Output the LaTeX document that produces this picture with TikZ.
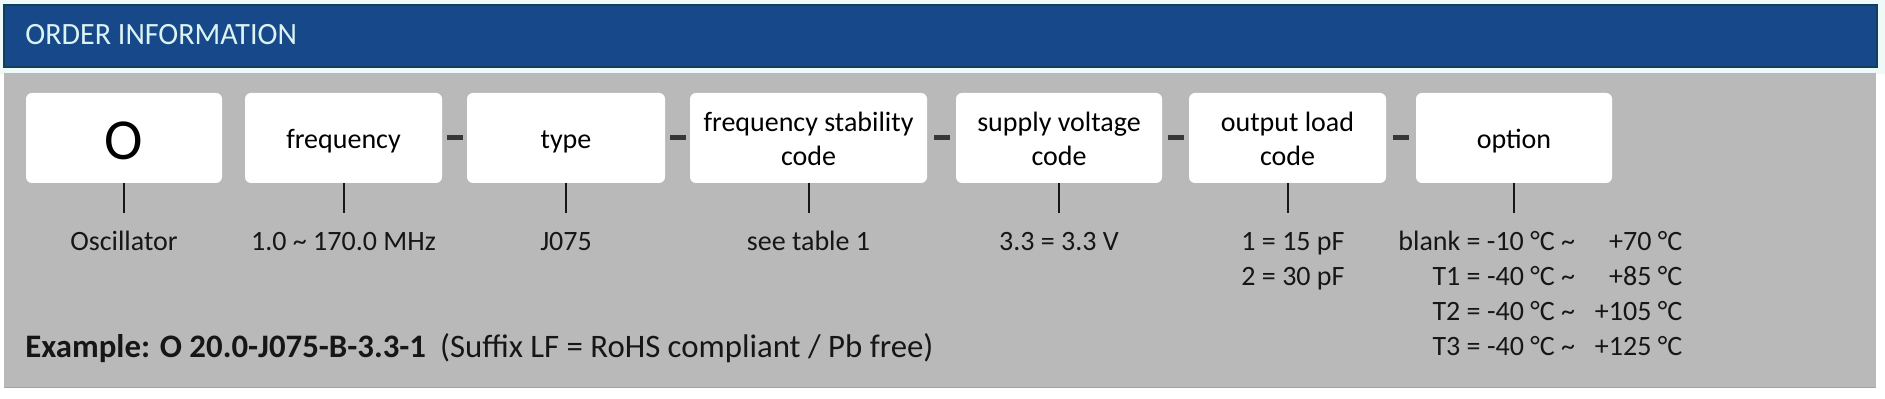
\documentclass[tikz,border=0pt]{standalone}
\usepackage{fontspec}
\setmainfont{Carlito}
\newfontfamily\hdrfont[FakeStretch=0.97]{Carlito}
\usetikzlibrary{calc}
\definecolor{hdrblue}{HTML}{16488A}
\definecolor{hdredge}{HTML}{123F5A}
\definecolor{hdrtext}{HTML}{DCF3F3}
\definecolor{bandc}{HTML}{EEFAFA}
\definecolor{panelgrey}{HTML}{B9B9B9}
\definecolor{paneledge}{HTML}{A4A4A4}
\definecolor{dashc}{HTML}{383838}
\definecolor{labc}{HTML}{161616}
\tikzset{
  boxst/.style={rectangle, fill=white, rounded corners=3pt, minimum height=45pt, inner sep=0pt},
  boxtxt/.style={anchor=base, inner sep=0pt, font=\fontsize{14}{17}\selectfont, text=black},
  dashst/.style={rectangle, fill=dashc, minimum width=8pt, minimum height=2.5pt, inner sep=0pt},
  tickst/.style={draw=labc, line width=1pt},
  lab/.style={anchor=base, inner sep=0pt, font=\fontsize{14}{17.5}\selectfont, text=labc},
}
\begin{document}
\begin{tikzpicture}[x=0.5pt,y=-0.5pt]
\useasboundingbox (0,0) rectangle (1885,399);
\fill[white] (0,0) rectangle (1885,399);
\fill[bandc] (0,0) rectangle (1885,74);
% header
\filldraw[fill=hdrblue, draw=hdredge, line width=1pt] (4,5) rectangle (1877,67);
\node[anchor=base west, inner sep=0pt, text=hdrtext, font=\hdrfont\fontsize{15.5}{18}\selectfont] (hdr) at (25,45) {ORDER INFORMATION};
% panel
\fill[panelgrey] (4,73) rectangle (1876,388);
\draw[paneledge, line width=0.6pt] (4,387.5) -- (1876,387.5);
% boxes
\node[boxst, minimum width=98pt]   (b1) at (124,138) {};
\node[boxst, minimum width=98.5pt] (b2) at (343.5,138) {};
\node[boxst, minimum width=99pt]   (b3) at (566,138) {};
\node[boxst, minimum width=118.5pt](b4) at (808.5,138) {};
\node[boxst, minimum width=103pt]  (b5) at (1059,138) {};
\node[boxst, minimum width=98.5pt] (b6) at (1287.5,138) {};
\node[boxst, minimum width=98pt]   (b7) at (1514,138) {};
% box texts
\node[boxtxt, font=\fontsize{29}{30}\selectfont] (t1) at (124,160) {O};
\node[boxtxt] (t2) at (343.5,149) {frequency};
\node[boxtxt] (t3) at (566,149) {type};
\node[boxtxt] (t4) at (808.5,132) {\begin{tabular}[t]{@{}c@{}}frequency stability\\code\end{tabular}};
\node[boxtxt] (t5) at (1059,132) {\begin{tabular}[t]{@{}c@{}}supply voltage\\code\end{tabular}};
\node[boxtxt] (t6) at (1287.5,132) {\begin{tabular}[t]{@{}c@{}}output load\\code\end{tabular}};
\node[boxtxt] (t7) at (1514,149) {option};
% dashes
\node[dashst] (d23) at ($(b2.east)!0.5!(b3.west)$) {};
\node[dashst] (d34) at ($(b3.east)!0.5!(b4.west)$) {};
\node[dashst] (d45) at ($(b4.east)!0.5!(b5.west)$) {};
\node[dashst] (d56) at ($(b5.east)!0.5!(b6.west)$) {};
\node[dashst] (d67) at ($(b6.east)!0.5!(b7.west)$) {};
% ticks
\foreach \i in {1,...,7} {
  \coordinate (k\i) at ($(b\i.south)+(0,30)$);
  \draw[tickst] (b\i.south) -- (k\i);
}
% labels
\node[lab] (l1) at (124,251) {Oscillator};
\node[lab] (l2) at (343.5,251) {1.0 \textasciitilde{} 170.0 MHz};
\node[lab] (l3) at (566,251) {J075};
\node[lab] (l4) at (808.5,251) {see table 1};
\node[lab] (l5) at (1059,251) {3.3 = 3.3 V};
\node[lab] (l6) at (1293,251) {\begin{tabular}[t]{@{}c@{}}1 = 15 pF\\2 = 30 pF\end{tabular}};
\node[lab, anchor=base west] (l7) at (1398,251) {\begin{tabular}[t]{@{}r@{\ =\ }l@{\ \textasciitilde\hspace{10pt}}r@{}}
blank & -10 °C & +70 °C\\
T1 & -40 °C & +85 °C\\
T2 & -40 °C & +105 °C\\
T3 & -40 °C & +125 °C
\end{tabular}};
% example
\node[anchor=base west, inner sep=0pt, text=labc, font=\fontsize{16.4}{20}\selectfont] (ex) at (25,358)
  {\textbf{Example: O 20.0-J075-B-3.3-1}\hspace{7pt}(Suffix LF = RoHS compliant / Pb free)};
\end{tikzpicture}
\end{document}
